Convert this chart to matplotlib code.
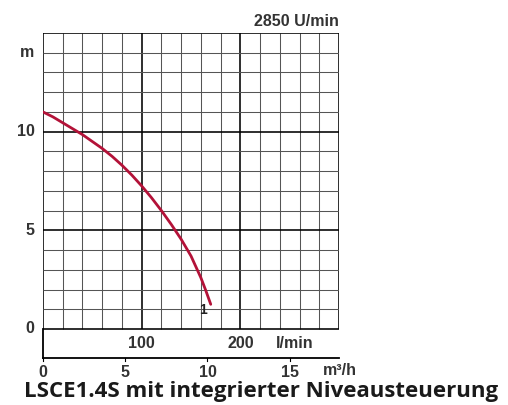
import numpy as np
import matplotlib
matplotlib.use('Agg')
import matplotlib.pyplot as plt

# pump curve (flow in l/min, head in m)
flow_lmin = [0, 10, 20, 30, 40, 50, 60, 70, 80, 90, 100, 110, 120, 130,
             140, 150, 160, 165, 170]
head_m = [11.0, 10.75, 10.45, 10.15, 9.85, 9.5, 9.15, 8.75, 8.3, 7.8, 7.25,
          6.65, 6.0, 5.3, 4.55, 3.7, 2.6, 1.95, 1.25]

y_ticks = [0, 5, 10]
lmin_ticks = [100, 200]
m3h_ticks = [0, 5, 10, 15]
title = 'LSCE1.4S mit integrierter Niveausteuerung'
speed = '2850 U/min'

curveColor = (0.70, 0.07, 0.22)
labelColor = '#333333'
thinGrid = '#555555'

fig = plt.figure(figsize=(5.08, 4.05), dpi=100)
ax = fig.add_axes([43/508, 47/405, 296/508, 325/405])
ax.set_xlim(0, 300)
ax.set_ylim(-1.47, 15)
ax.axis('off')

# grid (0..300 l/min, 0..15 m)
for x in range(0, 301, 20):
    thick = (x % 100 == 0)
    ax.plot([x, x], [0, 15], color='k' if thick else thinGrid,
            lw=1.15 if thick else 0.75, zorder=1, solid_capstyle='butt')
for y in range(0, 16):
    thick = (y % 5 == 0)
    ax.plot([0, 300], [y, y], color='k' if thick else thinGrid,
            lw=1.15 if thick else 0.75, zorder=1, solid_capstyle='butt')
# lower box: left and bottom lines
ax.plot([0, 0], [-1.47, 0], color='k', lw=1.3, clip_on=False)
ax.plot([0, 300], [-1.47, -1.47], color='k', lw=1.3, clip_on=False)

ax.plot(flow_lmin, head_m, color=curveColor, lw=2.0, zorder=3,
        solid_capstyle='round', solid_joinstyle='round')
ax.text(162, 0.95, '1', ha='center', va='center',
        fontsize=10, fontweight='bold', color='#222222', family='Liberation Sans')

font = dict(family='Liberation Sans', fontweight='bold', color=labelColor,
            fontsize=11.5)
for t in y_ticks:
    ax.text(-8.5, t, str(t), ha='right', va='center', **font)
ax.text(-8.5, 14, 'm', ha='right', va='center', **font)

for t in lmin_ticks:
    ax.text(t, -0.72, str(t), ha='center', va='center', **font)
ax.text(255, -0.72, 'l/min', ha='center', va='center', **font)

for t in m3h_ticks:
    xl = t * 1000 / 60
    ax.plot([xl, xl], [-1.47, -1.6], color='k', lw=0.8, clip_on=False)
    ax.text(xl, -2.2, str(t), ha='center', va='center', **font)
ax.text(301, -2.1, 'm³/h', ha='center', va='center', **font)

ax.text(300, 15.6, speed, ha='right', va='center', **font)

fig.text(261/508, 8/405, title, ha='center', va='baseline',
         fontsize=16, fontweight='bold', family='Open Sans', color='#1a1a1a')

fig.savefig('out.png', dpi=100)
